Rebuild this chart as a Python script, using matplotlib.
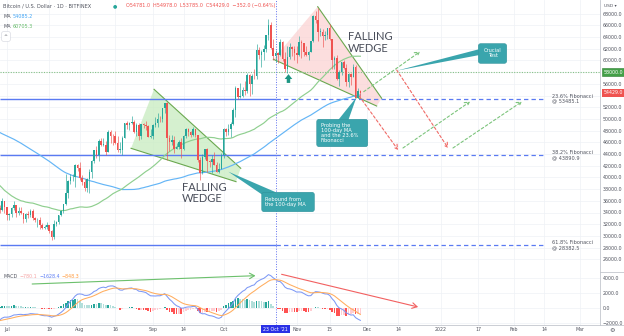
import numpy as np
import pandas as pd
import matplotlib
matplotlib.use('Agg')
import matplotlib.pyplot as plt
import matplotlib.dates as mdates
import matplotlib.transforms as mtransforms
from matplotlib.patches import Polygon, FancyBboxPatch
from matplotlib.lines import Line2D

# ---------------- data (BTC/USD daily, thousands of USD) ----------------
close_mar = [55.6, 56.4, 58.9, 57.6, 58.3, 58.3, 57.35, 54.1, 54.3, 52.3, 51.3, 55.1, 55.85, 55.78, 57.6, 58.8, 58.9]
close_apr = [58.9, 59.0, 57.15, 58.2, 59.1, 58.0, 56.0, 58.1, 58.1, 59.8, 59.8, 59.9, 63.5, 63.1, 63.3, 61.6, 60.1, 56.2, 55.7, 56.5,
             53.8, 51.7, 51.1, 50.1, 49.0, 54.0, 55.0, 54.8, 53.6, 57.8]
close_may = [57.8, 56.6, 57.2, 53.2, 57.5, 56.4, 57.4, 58.8, 58.2, 55.9, 56.7, 49.2, 49.7, 49.9, 46.8, 46.4, 43.6, 42.9, 37.0, 40.8,
             37.3, 37.5, 34.7, 38.8, 38.3, 39.3, 38.4, 35.7, 34.6, 35.7, 37.3]
close_jun = [36.7, 37.6, 39.2, 36.9, 35.5, 35.8, 33.6, 33.4, 37.4, 36.7, 37.3, 35.6, 39.1, 40.5, 40.2, 38.3, 38.1, 35.8, 35.6, 35.7,
             31.6, 32.5, 33.7, 34.7, 31.6, 32.2, 34.7, 34.5, 35.9, 35.0]
close_jul = [33.5, 33.8, 34.7, 35.3, 33.9, 34.2, 33.9, 32.9, 33.8, 33.5, 34.3, 33.1, 32.7, 32.8, 31.8, 31.4, 31.5, 31.8, 30.8, 29.8,
             32.1, 32.3, 33.6, 34.3, 35.4, 37.3, 39.4, 40.0, 40.0, 42.2, 41.6]
close_aug = [39.9, 39.2, 38.2, 39.7, 40.9, 42.8, 44.6, 43.8, 46.3, 45.6, 45.6, 44.4, 47.8, 47.1, 47.0, 45.9, 44.7, 44.7, 46.8, 49.3,
             48.9, 49.3, 49.5, 47.7, 48.9, 47.0, 49.1, 48.9, 48.8, 46.9, 47.1]
close_sep = [49.0, 49.3, 50.0, 49.9, 51.8, 52.7, 46.8, 46.1, 46.4, 44.9, 45.2, 46.1, 44.9, 47.1, 48.2, 47.8, 47.3, 48.3, 47.3, 43.0,
             40.7, 43.5, 44.9, 42.8, 42.7, 43.2, 42.2, 41.0, 41.5, 43.8]
close_oct = [48.2, 47.8, 48.2, 49.1, 51.5, 55.3, 53.8, 53.9, 55.0, 54.7, 57.5, 56.0, 57.4, 57.3, 61.7, 60.9, 61.5, 62.0, 64.3, 66.0,
             62.2, 60.7, 61.3, 60.9, 63.2, 60.3, 58.5, 60.6, 62.3, 61.9, 61.3]
close_nov = [61.0, 63.2, 62.9, 61.4, 61.0, 61.5, 63.3, 67.6, 66.9, 64.9, 64.9, 64.2, 64.4, 65.5, 63.6, 60.1, 60.4, 56.9, 58.1, 59.8,
             58.7, 56.3, 57.6, 57.2, 58.9, 53.6, 54.781, 54.429]

# highs / lows for the visible candles (27 Jun .. 28 Nov)
high_jun = [34.7, 35.2, 36.5, 36.0]
low_jun = [32.0, 33.9, 34.3, 34.0]
high_jul = [35.0, 33.9, 34.9, 35.9, 35.3, 35.0, 35.0, 33.9, 34.0, 34.2, 34.6, 34.6, 33.3, 33.1, 33.2, 32.2, 31.9, 32.4, 31.9, 31.0,
            32.8, 32.6, 33.6, 34.4, 35.4, 40.5, 39.5, 40.6, 40.6, 42.3, 42.3]
low_jul = [32.8, 32.7, 33.3, 34.5, 33.2, 33.6, 33.8, 32.2, 32.3, 33.1, 33.3, 32.7, 32.3, 31.6, 31.2, 31.1, 31.2, 31.2, 30.5, 29.3,
           29.5, 31.7, 32.0, 33.4, 33.9, 35.3, 36.4, 38.8, 39.3, 38.3, 41.1]
high_aug = [42.6, 40.4, 39.7, 39.9, 41.4, 43.0, 44.7, 45.3, 46.5, 46.7, 46.7, 46.2, 48.1, 48.1, 47.4, 48.0, 47.1, 46.0, 47.0, 49.3,
            49.7, 49.5, 50.5, 49.8, 49.3, 49.3, 49.2, 49.3, 49.6, 48.9, 48.2]
low_aug = [39.5, 38.7, 37.6, 37.5, 37.4, 39.9, 42.5, 43.4, 42.8, 45.3, 45.4, 43.8, 44.3, 45.9, 45.6, 45.7, 44.4, 44.2, 43.9, 46.7,
           48.3, 48.1, 49.1, 47.6, 47.1, 46.4, 46.5, 48.4, 48.1, 46.9, 46.7]
high_sep = [49.2, 50.4, 51.0, 50.5, 51.9, 52.8, 52.9, 47.3, 47.3, 47.0, 45.9, 46.4, 46.8, 47.2, 48.4, 48.4, 48.0, 48.7, 48.3, 47.3,
            43.5, 44.0, 44.9, 45.0, 42.9, 43.9, 44.3, 42.7, 42.5, 44.1]
low_sep = [46.6, 48.7, 48.6, 49.5, 49.5, 51.0, 42.9, 44.5, 45.5, 44.2, 44.8, 44.8, 43.4, 44.7, 46.8, 47.1, 46.9, 47.1, 46.9, 42.6,
           39.6, 40.6, 43.1, 40.9, 41.7, 40.8, 42.1, 40.9, 40.8, 41.4]
high_oct = [48.4, 48.4, 49.2, 49.5, 51.9, 55.6, 55.3, 56.1, 55.4, 56.5, 57.8, 57.7, 57.6, 58.5, 62.8, 62.3, 61.7, 62.6, 64.4, 67.0,
            66.6, 63.7, 61.7, 61.5, 63.7, 63.3, 61.5, 62.4, 62.9, 62.4, 62.4]
low_oct = [43.3, 47.1, 47.2, 46.9, 49.0, 50.4, 53.4, 53.6, 53.7, 54.1, 54.4, 54.0, 54.2, 56.8, 56.9, 60.2, 58.9, 60.0, 61.4, 63.5,
           62.0, 60.0, 59.7, 59.5, 60.7, 59.9, 58.1, 57.8, 60.3, 60.8, 60.0]
high_nov = [62.4, 64.2, 63.5, 63.0, 62.5, 61.6, 63.3, 67.8, 68.5, 69.0, 65.6, 65.4, 65.0, 65.5, 66.3, 63.6, 60.8, 60.9, 58.3, 59.8,
            60.0, 59.3, 57.8, 57.8, 59.4, 59.2, 55.3, 54.978]
low_nov = [59.6, 60.7, 60.4, 60.8, 60.8, 60.1, 61.4, 63.1, 66.4, 63.3, 64.1, 62.3, 63.5, 63.6, 63.5, 58.6, 58.5, 56.6, 55.7, 57.5,
           58.6, 55.7, 55.4, 55.8, 57.1, 53.6, 53.7, 53.785]

first_date = '2021-03-15'
first_visible = '2021-06-27'

fib_levels = [53485.1, 43890.9, 28382.5]
fib_names = ['23.6% Fibonacci', '38.2% Fibonacci', '61.8% Fibonacci']
test_level = 58000.0

price_ticks = list(range(26000, 68001, 2000))
hidden_price_ticks = [54000, 58000]          # covered by the price tags
macd_ticks = [4000, 2000, 0, -2000]
macd_tick_labels = ['4000.0', '2000.0', '0.0', '\u22122000.0']
date_ticks = ['2021-07-01', '2021-07-19', '2021-08-01', '2021-08-16', '2021-09-01', '2021-09-14', '2021-10-01',
              '2021-11-01', '2021-11-15', '2021-12-01', '2021-12-14', '2022-01-01', '2022-01-17', '2022-02-01',
              '2022-02-14', '2022-03-01']
date_tick_labels = ['Jul', '19', 'Aug', '16', 'Sep', '14', 'Oct', 'Nov', '15', 'Dec', '14', '2022', '17', 'Feb', '14', 'Mar']
marker_date = '2021-10-23'

# header legend texts as shown
title_text = 'Bitcoin / U.S. Dollar \u00b7 1D \u00b7 BITFINEX'
ohlc_text = 'O54781.0  H54978.0  L53785.0  C54429.0  \u2212352.0 (\u22120.64%)'
ma_texts = ['54085.2', '60705.3']
macd_texts = ['\u2212780.1', '\u22121628.4', '\u2212848.3']

# drawing annotations (date, price)
wedge1_poly = [('2021-08-22 17:00', 44970), ('2021-09-01 11:00', 55060), ('2021-10-08 06:00', 41560), ('2021-10-06 06:00', 39270)]
wedge2_poly = [('2021-10-22 02:00', 60190), ('2021-11-09 22:00', 69180), ('2021-12-07 01:00', 53520), ('2021-12-04 22:00', 52200)]
green_dash = [(('2021-11-29 10:00', 54650), ('2021-12-23 07:00', 61490)),
              (('2021-12-16 02:00', 45030), ('2022-01-13 12:00', 52940)),
              (('2022-01-06 07:00', 45030), ('2022-02-04 12:00', 52940))]
red_dash = [(('2021-11-27 12:00', 53900), ('2021-12-14 00:00', 44700)),
            (('2021-12-13 10:00', 58360), ('2022-01-04 05:00', 45030))]
macd_arrows = [(('2021-07-11 18:00', 3200), ('2021-10-14 12:00', 4307), '#6cc06c'),
               (('2021-10-25 14:00', 4493), ('2021-12-22 12:00', 133), '#f26060')]

# ---------------- computations ----------------
closes = np.array(close_mar + close_apr + close_may + close_jun + close_jul + close_aug + close_sep + close_oct + close_nov) * 1000
dates = pd.date_range(first_date, periods=len(closes), freq='D')
s = pd.Series(closes, index=dates)
opens_all = np.r_[closes[0], closes[:-1]]
ma50 = s.rolling(50).mean()
ma100 = s.rolling(100).mean()
ema12 = s.ewm(span=12, adjust=False).mean()
ema26 = s.ewm(span=26, adjust=False).mean()
macd = ema12 - ema26
signal = macd.ewm(span=9, adjust=False).mean()
hist = macd - signal

vis = dates >= pd.Timestamp(first_visible)
vd = dates[vis]
xv = mdates.date2num(vd)
o = opens_all[vis]
c = closes[vis]
h = np.array(high_jun + high_jul + high_aug + high_sep + high_oct + high_nov) * 1000
l = np.array(low_jun + low_jul + low_aug + low_sep + low_oct + low_nov) * 1000
h = np.maximum(h, np.maximum(o, c))
l = np.minimum(l, np.minimum(o, c))


def dn(t):
    return mdates.date2num(pd.Timestamp(t))


UP, DOWN = '#26a69a', '#ef5350'
TXT = '#50535e'
TEAL = '#3aa5ad'

fig = plt.figure(figsize=(6.24, 3.36), dpi=100)
fig.patch.set_facecolor('white')
W, H = 624.0, 336.0
ax = fig.add_axes([0, 1 - 272 / H, 600 / W, 272 / H])
axm = fig.add_axes([0, 1 - 325 / H, 600 / W, 53 / H], sharex=ax)

x0 = dn(marker_date) - 116.89
x1 = dn(marker_date) + 137.67
ax.set_xlim(x0, x1)
ax.set_ylim(23829, 70325)
axm.set_ylim(-2267, 4800)

gridc = '#eef1f6'
for a in (ax, axm):
    a.set_facecolor('white')
    for sp in ('left', 'top'):
        a.spines[sp].set_visible(False)
    a.spines['right'].set_color('#c3c6cd')
    a.spines['bottom'].set_color('#c3c6cd')
    a.spines['right'].set_linewidth(0.6)
    a.spines['bottom'].set_linewidth(0.6)
    a.yaxis.tick_right()
    a.tick_params(axis='both', length=0, labelsize=3.4, labelcolor=TXT, pad=2)
    a.set_xticks([dn(t) for t in date_ticks])
    a.grid(True, color=gridc, lw=0.5)
    a.set_axisbelow(True)

ax.set_yticks(price_ticks)
ax.set_yticklabels(['' if v in hidden_price_ticks else f'{v:.1f}' for v in price_ticks])
ax.tick_params(axis='x', labelbottom=False)
axm.set_yticks(macd_ticks)
axm.set_yticklabels(macd_tick_labels)
axm.set_xticklabels(date_tick_labels)
axm.tick_params(axis='x', pad=1.6)

# ---------------- price pane ----------------
ax.add_patch(Polygon([(dn(t), p) for t, p in wedge1_poly], closed=True, fc='#c8ecc0', ec='none', alpha=0.75, zorder=1))
ax.add_patch(Polygon([(dn(t), p) for t, p in wedge2_poly], closed=True, fc='#fbd3d3', ec='none', alpha=0.75, zorder=1))
wl = '#6aa84f'
for poly in (wedge1_poly, wedge2_poly):
    (ta, pa), (tb, pb), (tc, pc), (td, pd_) = poly
    ax.plot([dn(tb), dn(tc)], [pb, pc], color=wl, lw=0.8, zorder=2)
    ax.plot([dn(ta), dn(td)], [pa, pd_], color=wl, lw=0.8, zorder=2)

mk = dn(marker_date)
fib_end = dn('2022-02-14')
for lev, name in zip(fib_levels, fib_names):
    ax.plot([x0, mk], [lev, lev], color='#5a7af2', lw=1.0, zorder=2, solid_capstyle='butt')
    ax.plot([mk, fib_end], [lev, lev], color='#5a7af2', lw=0.9, ls=(0, (3.5, 2.5)), zorder=2)
    tr = mtransforms.offset_copy(ax.transData, fig=fig, x=0, y=5, units='dots')
    ax.text(dn('2022-02-17 08:00'), lev, f'{name}\n@ {lev:.1f}', transform=tr, fontsize=3.6, color=TXT,
            va='top', ha='left', linespacing=1.05)

ax.axhline(test_level, color='#86c286', lw=0.8, ls=(0, (1, 1.3)), zorder=2)

for a in (ax, axm):
    a.axvline(mk, color='#6272f0', lw=0.7, ls=(0, (1, 1.6)), zorder=2)

ax.plot(xv, ma100[vis].values, color='#64b5f6', lw=0.85, zorder=3)
ax.plot(xv, ma50[vis].values, color='#8fcf8f', lw=0.85, zorder=3)

cols = np.where(c >= o, UP, DOWN)
ax.vlines(xv, l, h, colors=cols, lw=0.45, zorder=4)
body = np.maximum(np.abs(c - o), 80)
ax.bar(xv, body, bottom=np.minimum(o, c), width=0.66, color=cols, lw=0, zorder=5)

for (sa, pa), (sb, pb) in green_dash:
    ax.annotate('', xy=(dn(sb), pb), xytext=(dn(sa), pa),
                arrowprops=dict(arrowstyle='->,head_length=0.3,head_width=0.18', color='#7cc47c', lw=0.8,
                                ls=(0, (2.4, 2.0)), shrinkA=0, shrinkB=0), zorder=6)
for (sa, pa), (sb, pb) in red_dash:
    ax.annotate('', xy=(dn(sb), pb), xytext=(dn(sa), pa),
                arrowprops=dict(arrowstyle='->,head_length=0.3,head_width=0.18', color='#f06a66', lw=0.8,
                                ls=(0, (2.4, 2.0)), shrinkA=0, shrinkB=0), zorder=6)

ax.annotate('', xy=(dn('2021-10-28 12:00'), 57650), xytext=(dn('2021-10-28 12:00'), 56150),
            arrowprops=dict(arrowstyle='simple,head_width=0.55,head_length=0.35,tail_width=0.25', color='#1e9683',
                            lw=0, shrinkA=0, shrinkB=0), zorder=6)

ax.text(dn('2021-09-13 08:00'), 37333, 'FALLING\nWEDGE', fontsize=8, family='Lato', color='#4a4e5a',
        ha='left', va='center', linespacing=1.0, zorder=7)
ax.text(dn('2021-11-22 18:00'), 63060, 'FALLING\nWEDGE', fontsize=8, family='Lato', color='#4a4e5a',
        ha='left', va='center', linespacing=1.0, zorder=7)

ASP = 403.0


def callout(box, tip, base, text, tx, ha):
    (bl, br, bb, bt) = box
    ax.add_patch(Polygon([(dn(tip[0]), tip[1]), (dn(base[0][0]), base[0][1]), (dn(base[1][0]), base[1][1])],
                         closed=True, fc=TEAL, ec='none', zorder=8))
    ax.add_patch(FancyBboxPatch((dn(bl), bb), dn(br) - dn(bl), bt - bb, boxstyle='round,pad=0,rounding_size=1.0',
                                mutation_aspect=ASP, fc=TEAL, ec='#2f929a', lw=0.4, zorder=8))
    ax.text(dn(tx[0]), tx[1], text, color='white', fontsize=3.7, ha=ha, va='center', linespacing=1.05, zorder=9)


callout(('2022-01-17 01:00', '2022-01-29 02:00', 59504, 62855), ('2021-12-13 10:00', 58240),
        (('2022-01-17 06:00', 60900), ('2022-01-17 06:00', 61900)), 'Crucial\nTest', ('2022-01-23 02:00', 61300), 'center')
callout(('2021-11-09 12:00', '2021-12-01 03:00', 45248, 49932), ('2021-11-26 08:00', 53700),
        (('2021-11-18 14:00', 49800), ('2021-11-22 22:00', 49800)),
        'Probing the\n100-day MA\nand the 23.6%\nFibonacci', ('2021-11-11 05:00', 47590), 'left')
callout(('2021-10-17 04:00', '2021-11-08 11:00', 34137, 37453), ('2021-10-03 00:00', 40974),
        (('2021-10-17 04:00', 37100), ('2021-10-23 12:00', 37400)),
        'Rebound from\nthe 100-day MA', ('2021-10-18 13:00', 35795), 'left')

btr = mtransforms.blended_transform_factory(ax.transAxes, ax.transData)
ax.text(1.0 + 3.5 / 600, test_level, f'{test_level:.1f}', transform=btr, fontsize=3.4, color='white', ha='left',
        va='center', clip_on=False, zorder=10,
        bbox=dict(boxstyle='square,pad=0.3', fc='#43a047', ec='#2e7d32', lw=0.4))
ax.text(1.0 + 3.5 / 600, c[-1], f'{c[-1]:.1f}', transform=btr, fontsize=3.4, color='white', ha='left',
        va='center', clip_on=False, zorder=10,
        bbox=dict(boxstyle='square,pad=0.3', fc='#ef5350', ec='none'))

# ---------------- MACD pane ----------------
hv = hist[vis].values
hp = hist.shift(1)[vis].values
hcol = np.where(hv >= 0, np.where(hv > hp, '#26a69a', '#b2dfdb'), np.where(hv < hp, '#ff5252', '#ffcdd2'))
axm.bar(xv, hv, width=0.7, color=hcol, lw=0, zorder=3)
axm.plot(xv, macd[vis].values, color='#7d98f5', lw=0.75, zorder=4)
axm.plot(xv, signal[vis].values, color='#ffad5e', lw=0.75, zorder=4)
for (sa, pa), (sb, pb), col in macd_arrows:
    axm.annotate('', xy=(dn(sb), pb), xytext=(dn(sa), pa),
                 arrowprops=dict(arrowstyle='->,head_length=0.35,head_width=0.2', color=col, lw=0.8,
                                 shrinkA=0, shrinkB=0), zorder=6)

axm.text(mk, -0.03, "23 Oct '21", transform=mtransforms.blended_transform_factory(axm.transData, axm.transAxes),
         fontsize=3.4, color='white', ha='center', va='top', clip_on=False, zorder=10,
         bbox=dict(boxstyle='square,pad=0.35', fc='#2a31e6', ec='none'))

fig.add_artist(Line2D([600 / W, 1], [1 - 272 / H, 1 - 272 / H], color='#c3c6cd', lw=0.6))
fig.add_artist(Line2D([600 / W, 1], [1 - 325 / H, 1 - 325 / H], color='#c3c6cd', lw=0.6))


def ft(x, y, s, **kw):
    fig.text(x / W, 1 - y / H, s, va='center', ha='left', **kw)


ft(3, 6, title_text, fontsize=3.6, color=TXT)
ft(113, 6, '\u25cf', fontsize=3.6, color='#26a69a')
ft(126, 6, ohlc_text, fontsize=3.5, color='#ef5350')
ft(3, 16, 'MA', fontsize=3.5, color=TXT)
ft(13, 16, ma_texts[0], fontsize=3.5, color='#42a5f5')
ft(3, 26, 'MA', fontsize=3.5, color=TXT)
ft(13, 26, ma_texts[1], fontsize=3.5, color='#66bb6a')
ft(4, 36.5, '^', fontsize=3.4, color=TXT,
   bbox=dict(boxstyle='round,pad=0.5,rounding_size=0.4', fc='white', ec='#d1d4dc', lw=0.4))
ft(604, 6, 'USD \u25be', fontsize=3.2, color=TXT)
ft(3, 277, 'MACD', fontsize=3.4, color=TXT)
ft(20, 277, macd_texts[0], fontsize=3.4, color='#f4a3a3')
ft(39, 277, macd_texts[1], fontsize=3.4, color='#5b7cf5')
ft(61, 277, macd_texts[2], fontsize=3.4, color='#ff9a3c')
ft(609, 330, '\u2699', fontsize=4.5, color=TXT)

fig.savefig('out.png', dpi=100)
